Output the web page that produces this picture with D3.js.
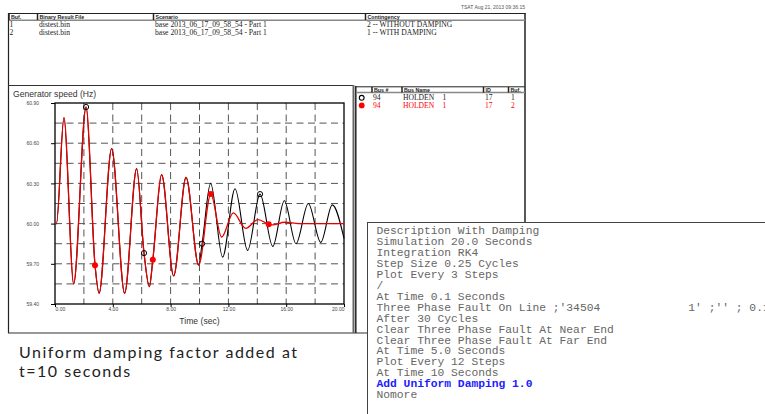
<!DOCTYPE html>
<html>
<head>
<meta charset="utf-8">
<script src="https://cdn.jsdelivr.net/npm/d3@7"></script>
<style>
  body { margin: 0; background: #fff; }
  svg { display: block; }
</style>
</head>
<body>
<svg id="chart" width="765" height="414"></svg>
<script>
// Generator speed (Hz) -- both runs identical until damping kicks in at t=10 s
const sharedTime  = [0, 0.1, 0.62, 1.29, 2.15, 2.77, 3.05, 3.92, 4.82, 5.65, 6.16, 6.53, 6.77, 7.38, 8.21, 9.07, 9.94];
const sharedSpeed = [60.00, 60.00, 60.79, 59.55, 60.87, 59.69, 59.48, 60.56, 59.48, 60.41, 59.78, 59.53, 59.73, 60.365, 59.61, 60.345, 59.69];

const noDampTime  = [10.18, 10.77, 11.6, 12.46, 13.33, 14.19, 15.07, 15.87, 16.68, 17.53, 18.39, 19.19, 20];
const noDampSpeed = [59.85, 60.30, 59.75, 60.26, 59.80, 60.22, 59.83, 60.17, 59.85, 60.15, 59.86, 60.14, 59.89];

const dampTime  = [10.78, 11.53, 12.34, 13.2, 14.05, 14.79, 15.05, 15.9, 16.9, 20];
const dampSpeed = [60.22, 59.90, 60.08, 59.965, 60.03, 59.995, 59.99, 60.01, 60.00, 60.00];

// plot symbols sit on every 4th second of each trace
const noDampMarkTimes = [2.15, 6.16, 10.18, 14.19];
const dampMarkTimes   = [2.77, 6.77, 10.78, 14.79];

const yTicks = [59.40, 59.70, 60.00, 60.30, 60.60, 60.90];
const xTicks = [0, 4, 8, 12, 16, 20];

const fileHeaders = ["Buf.", "Binary Result File", "Scenario", "Contingency"];
const fileRows = [
  ["1", "distest.bin", "base 2013_06_17_09_58_54 - Part 1", "2 -- WITHOUT DAMPING"],
  ["2", "distest.bin", "base 2013_06_17_09_58_54 - Part 1", "1 -- WITH DAMPING"]
];
const legendHeaders = ["Bus #", "Bus Name", "ID", "Buf."];
const legendRows = [
  ["94", "HOLDEN", "1", "17", "1"],
  ["94", "HOLDEN", "1", "17", "2"]
];

const scriptLines = [
  "Description With Damping",
  "Simulation 20.0 Seconds",
  "Integration RK4",
  "Step Size 0.25 Cycles",
  "Plot Every 3 Steps",
  "/",
  "At Time 0.1 Seconds",
  "Three Phase Fault On Line ;'34504             1' ;'' ; 0.1",
  "After 30 Cycles",
  "Clear Three Phase Fault At Near End",
  "Clear Three Phase Fault At Far End",
  "At Time 5.0 Seconds",
  "Plot Every 12 Steps",
  "At Time 10 Seconds",
  "Add Uniform Damping 1.0",
  "Nomore"
];
const captionLines = ["Uniform damping factor added at", "t=10 seconds"];

const svg = d3.select("#chart");
svg.append("rect").attr("width", 765).attr("height", 414).attr("fill", "#fff");

const hline = (x1, x2, y, color, w) => svg.append("line")
  .attr("x1", x1).attr("x2", x2).attr("y1", y).attr("y2", y)
  .attr("stroke", color).attr("stroke-width", w);
const vline = (x, y1, y2, color, w) => svg.append("line")
  .attr("x1", x).attr("x2", x).attr("y1", y1).attr("y2", y2)
  .attr("stroke", color).attr("stroke-width", w);

// ---- top file table ----
svg.append("text")
  .attr("x", 525).attr("y", 9)
  .attr("text-anchor", "end")
  .attr("font-family", "Liberation Sans, Arial, sans-serif")
  .attr("font-size", 5).attr("fill", "#555")
  .text("TSAT Aug 21, 2013 09:36:15");

hline(8, 525.5, 13.5, "#222", 1);
vline(8.5, 13, 333, "#222", 1.2);
vline(525, 13, 222, "#222", 1.5);
hline(9, 525, 20.3, "#888", 1.5);

const fileCols = [9, 37.5, 153.5, 365.5];
fileCols.forEach((cx, i) => {
  vline(cx, 13.5, 20, "#222", 1.5);
  svg.append("text")
    .attr("x", cx + 2).attr("y", 18.6)
    .attr("font-family", "Liberation Sans, Arial, sans-serif")
    .attr("font-weight", "bold").attr("font-size", 5.3).attr("fill", "#222")
    .text(fileHeaders[i]);
});
fileRows.forEach((row, r) => {
  row.forEach((cell, i) => {
    svg.append("text")
      .attr("x", fileCols[i] + (i === 0 ? 0.5 : 1.5)).attr("y", 27 + r * 8)
      .attr("font-family", "Liberation Serif, Times New Roman, serif")
      .attr("font-size", 7.6).attr("fill", "#222")
      .text(cell);
  });
});

// ---- chart + legend panels ----
hline(8, 353, 85.5, "#333", 1);
hline(8, 525, 333, "#333", 1.2);
vline(353.5, 85, 333, "#666", 2);
hline(355, 525, 86.8, "#222", 1);
vline(355.8, 86, 333, "#222", 1.5);

svg.append("text")
  .attr("x", 13).attr("y", 96.5)
  .attr("font-family", "Liberation Sans, Arial, sans-serif")
  .attr("font-size", 8.6).attr("fill", "#333")
  .text("Generator speed (Hz)");

const x = d3.scaleLinear().domain([0, 20]).range([55, 344]);
const y = d3.scaleLinear().domain([59.4, 60.9]).range([304, 103]);

// dashed grid
const grid = svg.append("g")
  .attr("stroke", "#555").attr("stroke-width", 1).attr("stroke-dasharray", "7,4.5");
grid.selectAll("line.h")
  .data(d3.range(1, 10).map(i => 59.4 + 0.15 * i))
  .join("line")
  .attr("x1", x(0)).attr("x2", x(20))
  .attr("y1", d => y(d)).attr("y2", d => y(d));
grid.selectAll("line.v")
  .data(d3.range(2, 20, 2))
  .join("line")
  .attr("x1", d => x(d)).attr("x2", d => x(d))
  .attr("y1", y(60.9)).attr("y2", y(59.4));

// axes
const yAxis = svg.append("g")
  .attr("transform", `translate(${x(0)},0)`)
  .call(d3.axisLeft(y).tickValues(yTicks).tickFormat(d3.format(".2f")).tickSize(4).tickPadding(12));
const xAxis = svg.append("g")
  .attr("transform", `translate(0,${y(59.4)})`)
  .call(d3.axisBottom(x).tickValues(xTicks).tickFormat(d3.format(".2f")).tickSize(3).tickPadding(0.5));
[xAxis, yAxis].forEach(g => {
  g.select(".domain").remove();
  g.selectAll(".tick line").attr("stroke", "#000").attr("stroke-width", 1);
  g.selectAll(".tick text")
    .attr("font-family", "Liberation Sans, Arial, sans-serif")
    .attr("font-size", 5).attr("fill", "#444");
});
xAxis.selectAll(".tick text")
  .attr("text-anchor", d => d === 0 ? "start" : d === 20 ? "end" : "middle");

svg.append("rect")
  .attr("x", x(0)).attr("y", y(60.9))
  .attr("width", x(20) - x(0)).attr("height", y(59.4) - y(60.9))
  .attr("fill", "none").attr("stroke", "#000").attr("stroke-width", 1.3);

svg.append("text")
  .attr("x", 199.5).attr("y", 324)
  .attr("text-anchor", "middle")
  .attr("font-family", "Liberation Sans, Arial, sans-serif")
  .attr("font-size", 8.6).attr("fill", "#333")
  .text("Time (sec)");

// traces
const shared = sharedTime.map((t, i) => [t, sharedSpeed[i]]);
const noDamp = shared.concat(noDampTime.map((t, i) => [t, noDampSpeed[i]]));
const damp = shared.concat(dampTime.map((t, i) => [t, dampSpeed[i]]));

const line = d3.line()
  .x(d => x(d[0])).y(d => y(d[1]))
  .curve(d3.curveMonotoneX);

svg.append("path").datum(noDamp)
  .attr("d", line).attr("fill", "none")
  .attr("stroke", "#000").attr("stroke-width", 1.1);
svg.append("path").datum(damp)
  .attr("d", line).attr("fill", "none")
  .attr("stroke", "#e80000").attr("stroke-width", 1.3);

svg.selectAll("circle.nd")
  .data(noDamp.filter(d => noDampMarkTimes.includes(d[0])))
  .join("circle")
  .attr("cx", d => x(d[0])).attr("cy", d => y(d[1])).attr("r", 2.6)
  .attr("fill", "none").attr("stroke", "#000").attr("stroke-width", 1);
svg.selectAll("circle.d")
  .data(damp.filter(d => dampMarkTimes.includes(d[0])))
  .join("circle")
  .attr("cx", d => x(d[0])).attr("cy", d => y(d[1])).attr("r", 3)
  .attr("fill", "#f00");

// ---- legend table ----
const legCols = [372, 402, 483.5, 508.5];
hline(356, 525, 92.5, "#888", 1.5);
legCols.forEach((cx, i) => {
  vline(cx, 87, 92.5, "#222", 1.5);
  svg.append("text")
    .attr("x", cx + 2).attr("y", 91.6)
    .attr("font-family", "Liberation Sans, Arial, sans-serif")
    .attr("font-weight", "bold").attr("font-size", 5.3).attr("fill", "#222")
    .text(legendHeaders[i]);
});
const legTextX = [373, 403, 442.5, 485, 511];
legendRows.forEach((row, r) => {
  const color = r === 0 ? "#222" : "#f00";
  const cy = 97.8 + r * 7.6;
  if (r === 0) {
    svg.append("circle").attr("cx", 361.7).attr("cy", cy).attr("r", 2.4)
      .attr("fill", "none").attr("stroke", "#000").attr("stroke-width", 1.1);
  } else {
    svg.append("circle").attr("cx", 361.7).attr("cy", cy).attr("r", 2.9).attr("fill", "#f00");
  }
  row.forEach((cell, i) => {
    svg.append("text")
      .attr("x", legTextX[i]).attr("y", cy + 2.5)
      .attr("font-family", "Liberation Serif, Times New Roman, serif")
      .attr("font-size", 7.6).attr("fill", color)
      .text(cell);
  });
});

// ---- script text box ----
svg.append("rect")
  .attr("x", 367.5).attr("y", 222.5).attr("width", 420).attr("height", 220)
  .attr("fill", "#fff").attr("stroke", "#444").attr("stroke-width", 1);
scriptLines.forEach((txt, i) => {
  const blue = txt.startsWith("Add Uniform");
  svg.append("text")
    .attr("x", 376.5).attr("y", 234 + i * 10.95)
    .attr("xml:space", "preserve")
    .style("white-space", "pre")
    .attr("font-family", "Liberation Mono, Courier New, monospace")
    .attr("font-size", 11.3)
    .attr("font-weight", blue ? "bold" : "normal")
    .attr("fill", blue ? "#2020ff" : "#666")
    .text(txt);
});

// ---- caption ----
const cap = svg.append("g")
  .attr("font-family", "Lato, Open Sans, sans-serif")
  .attr("font-size", 16)
  .attr("fill", "#222");
const capText = captionLines.map((txt, i) => cap.append("text")
  .attr("x", 19).attr("y", 358 + i * 18.6)
  .text(txt));
const firstLen = capText[0].node().getComputedTextLength();
const spacing = Math.max(0, (278 - firstLen) / (captionLines[0].length - 1));
capText.forEach(t => t.attr("letter-spacing", spacing));
</script>
</body>
</html>
